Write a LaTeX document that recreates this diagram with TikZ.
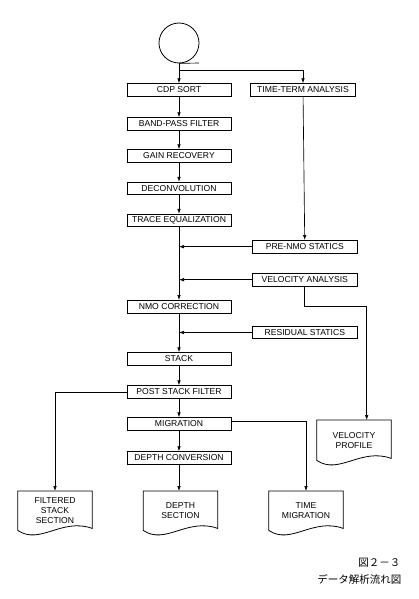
\documentclass[tikz,border=0pt]{standalone}
\usepackage{fontspec}
\setmainfont{Liberation Sans}
\newfontfamily\jpfont{Noto Sans CJK JP}
\usetikzlibrary{arrows.meta,calc}
\newcommand\docdraw[1]{%
  \draw[docline] (#1.north west) -- (#1.north east) -- ($(#1.south east)+(0,-2)$)
    .. controls ($(#1.south west)+(44,-13)$) and ($(#1.south west)+(22,15)$) .. (#1.south west) -- cycle;}
\begin{document}
\begin{tikzpicture}[x=1pt,y=-1pt,
  font=\fontsize{8.6}{10.2}\selectfont,
  procbox/.style={draw,line width=0.9pt,minimum width=104pt,minimum height=12.5pt,inner sep=0pt},
  sidebox/.style={procbox,minimum width=105pt},
  docnode/.style={minimum width=74pt,minimum height=39pt,inner sep=0pt,align=center,anchor=north},
  docline/.style={line width=0.8pt},
  flow/.style={line width=0.65pt,-{Latex[length=5pt,width=3.6pt]}},
  link/.style={line width=0.65pt}]
\useasboundingbox (0,0) rectangle (419,599);

% tape symbol
\node[draw,circle,line width=0.8pt,minimum size=40pt,inner sep=0pt] (tape) at (179,43) {};
\coordinate (tapeend) at (199,63);
\draw[link] (tape.south) -- (tapeend);

% main column
\node[procbox] (cdp) at (179,90) {CDP SORT};
\node[procbox] (bpf) at (179,124) {BAND-PASS FILTER};
\node[procbox] (gain) at (179,156) {GAIN RECOVERY};
\node[procbox] (decon) at (179,188.5) {DECONVOLUTION};
\node[procbox] (treq) at (179,220.5) {TRACE EQUALIZATION};
\node[procbox] (nmo) at (179,306.7) {NMO CORRECTION};
\node[procbox] (stack) at (179,359) {STACK};
\node[procbox] (psf) at (179,392) {POST STACK FILTER};
\node[procbox] (mig) at (179,424) {MIGRATION};
\node[procbox] (dconv) at (179,458) {DEPTH CONVERSION};

% right column
\node[sidebox] (tta) at (303,90) {TIME-TERM ANALYSIS};
\node[sidebox] (pns) at (304.8,246.7) {PRE-NMO STATICS};
\node[sidebox] (va) at (304.8,279.7) {VELOCITY ANALYSIS};
\node[sidebox] (rs) at (304.8,332.5) {RESIDUAL STATICS};

% documents
\node[docnode] (fss) at (55,491) {FILTERED\\STACK\\SECTION};
\node[docnode] (ds) at (180.5,491) {DEPTH\\SECTION};
\node[docnode] (tm) at (306,491) {TIME\\MIGRATION};
\node[docnode,minimum height=40pt] (vp) at (354,420) {VELOCITY\\PROFILE};
\docdraw{fss}
\docdraw{ds}
\docdraw{tm}
\docdraw{vp}

% connectors
\coordinate (split) at (179,70);
\draw[flow] (tape.south) -- (cdp.north);
\draw[flow] (split) -| (tta.north);
\draw[flow] (cdp) -- (bpf);
\draw[flow] (bpf) -- (gain);
\draw[flow] (gain) -- (decon);
\draw[flow] (decon) -- (treq);
\draw[flow] (treq) -- (nmo);
\draw[flow] (tta) -- (pns);
\draw[flow] (pns.west) -- (pns.west -| treq.south);
\draw[flow] (va.west) -- (va.west -| treq.south);
\coordinate (vpturn) at (304.8,306.7);
\coordinate (vptop) at (366.7,420);
\draw[flow] (va.south) -- (vpturn) -| (vptop);
\draw[flow] (nmo) -- (stack);
\draw[flow] (rs.west) -- (rs.west -| nmo.south);
\draw[flow] (stack) -- (psf);
\draw[flow] (psf) -- (mig);
\draw[flow] (mig) -- (dconv);
\draw[flow] (dconv.south) -- (dconv.south |- ds.north);
\draw[flow] (psf.west) -| (fss.north);
\coordinate (migout) at (231,421.7);
\draw[flow] (migout) -| (tm.north);

% caption
\node[font=\jpfont\fontsize{10.5}{12}\selectfont,anchor=east] (fig) at (404,562.7) {図２－３};
\node[font=\jpfont\fontsize{10.5}{12}\selectfont,anchor=east] (cap) at (405,579.3) {データ解析流れ図};
\end{tikzpicture}
\end{document}
